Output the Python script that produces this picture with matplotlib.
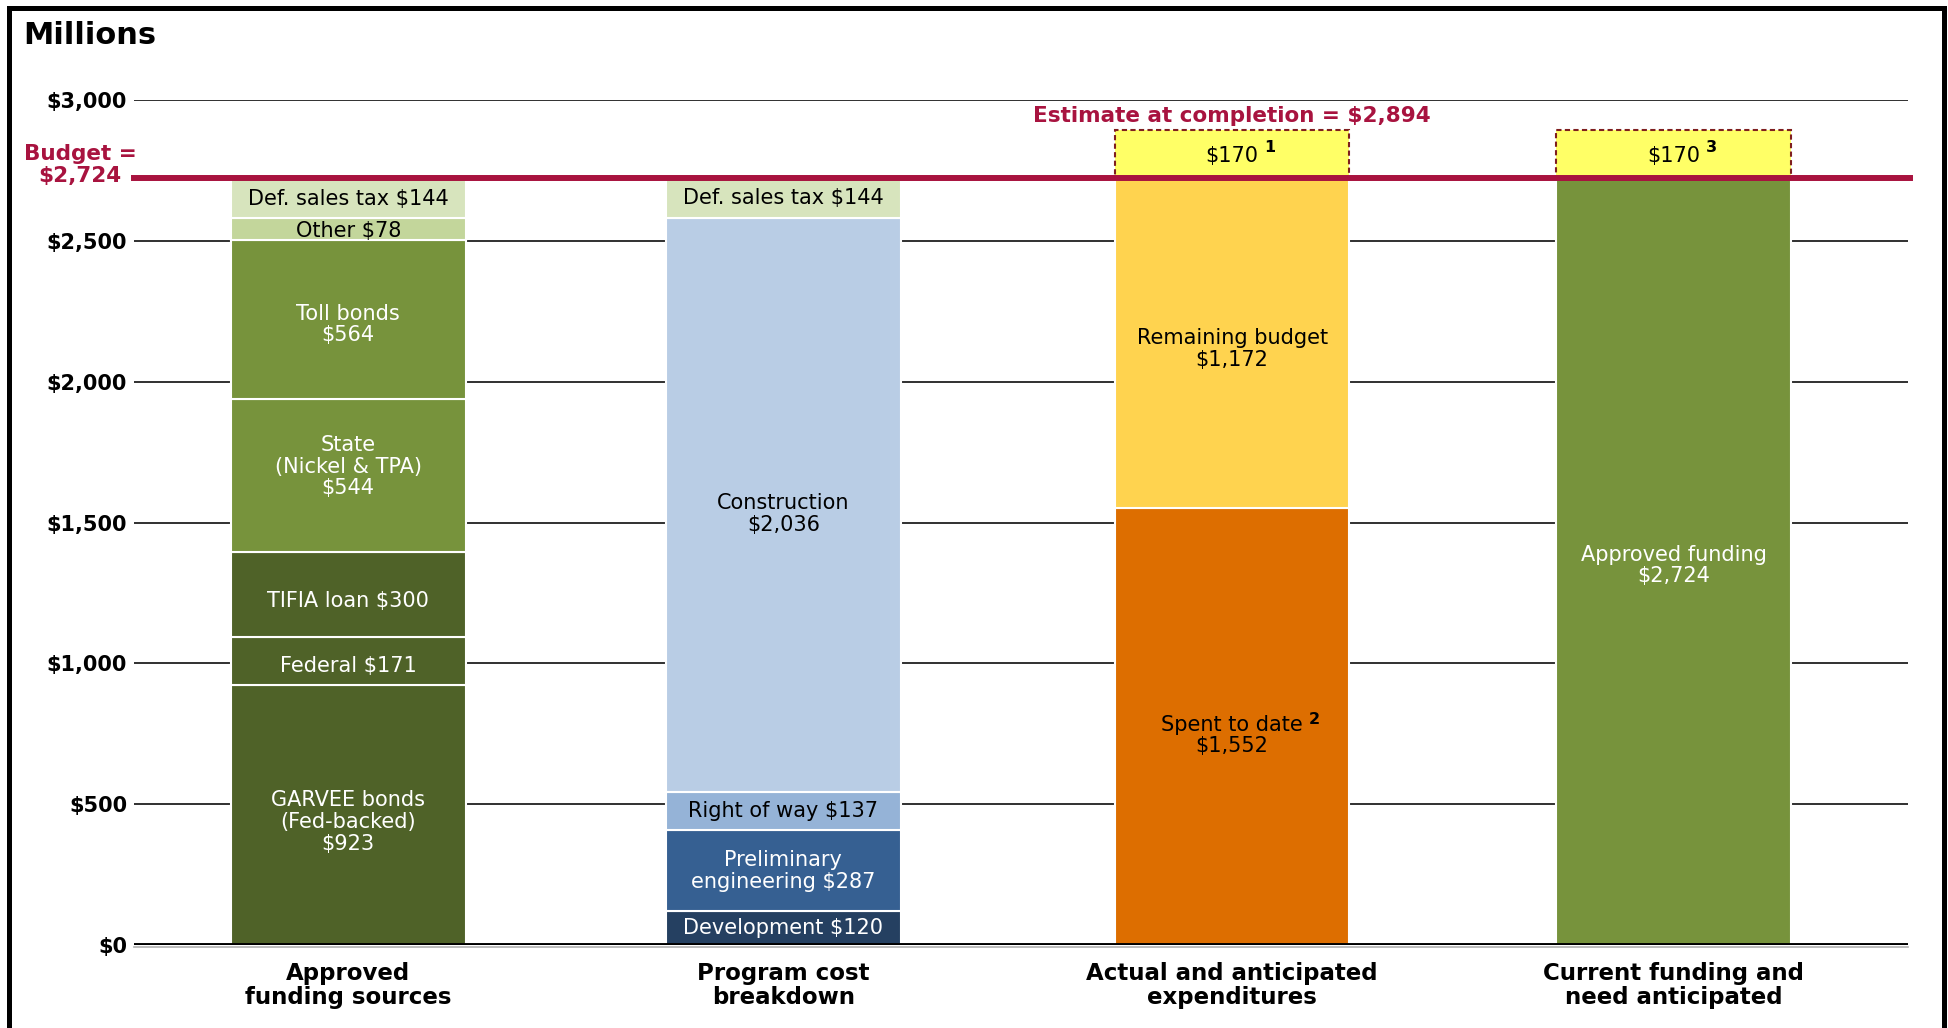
import matplotlib
matplotlib.use("Agg")
import matplotlib.pyplot as plt
from matplotlib.lines import Line2D
from matplotlib.transforms import blended_transform_factory, ScaledTranslation

# ---------------- data ----------------
categories = ["Approved\nfunding sources", "Program cost\nbreakdown",
              "Actual and anticipated\nexpenditures", "Current funding and\nneed anticipated"]

funding_labels = ["GARVEE bonds\n(Fed-backed)\n$923", "Federal $171", "TIFIA loan $300",
                  "State\n(Nickel & TPA)\n$544", "Toll bonds\n$564", "Other $78",
                  "Def. sales tax $144"]
funding_values = [923, 171, 300, 544, 564, 78, 144]

cost_labels = ["Development $120", "Preliminary\nengineering $287", "Right of way $137",
               "Construction\n$2,036", "Def. sales tax $144"]
cost_values = [120, 287, 137, 2036, 144]

expend_labels = ["Spent to date\n$1,552", "Remaining budget\n$1,172"]
expend_values = [1552, 1172]
expend_notes = ["2", ""]

current_labels = ["Approved funding\n$2,724"]
current_values = [2724]

unfunded = 170
unfunded_notes = ["1", "3"]
budget = 2724
estimate = 2894

yticks = [0, 500, 1000, 1500, 2000, 2500, 3000]
ytick_labels = ["$0", "$500", "$1,000", "$1,500", "$2,000", "$2,500", "$3,000"]

# ---------------- styles ----------------
funding_colors = ["#4F6228", "#4F6228", "#4F6228", "#77933C", "#77933C", "#C3D69B", "#D7E4BD"]
funding_text = ["white", "white", "white", "white", "white", "black", "black"]
funding_nudge = [7, 5, 6, -9, 5, 2, 1]          # label nudge, pixels downward
cost_colors = ["#254061", "#366092", "#95B3D7", "#B9CDE5", "#D7E4BD"]
cost_text = ["white", "white", "black", "black", "black"]
cost_nudge = [0, 0, 0, 9, 0]
expend_colors = ["#DD6E00", "#FFD34F"]
expend_text = ["black", "black"]
expend_nudge = [9, 6]
current_colors = ["#77933C"]
current_text = ["white"]
current_nudge = [4]

CRIMSON = "#A8133F"
positions = [0.0, 0.985, 2.001, 3.0]
bar_w = 0.531

plt.rcParams["font.family"] = ["DejaVu Sans"]

W, H = 1949, 1028
fig = plt.figure(figsize=(W / 100, H / 100), dpi=100)
ax = fig.add_axes([134 / W, 83 / H, 1774 / W, 845 / H])
ax.set_xlim(-0.485, 3.531)
ax.set_ylim(0, 3000)
for s in ax.spines.values():
    s.set_visible(False)

# gridlines
for y in yticks[1:]:
    ax.axhline(y, color="#202020", lw=1.3, zorder=0)
ax.axhline(0, color="black", lw=2.8, zorder=6)
zero_shadow = Line2D([0, 1], [0, 0], color="#b0b0b0", lw=1.2, zorder=5)
zero_shadow.set_transform(ax.transAxes + ScaledTranslation(0, -2.3 / 100, fig.dpi_scale_trans))
zero_shadow.set_clip_on(False)
ax.add_line(zero_shadow)

ax.set_yticks(yticks)
ax.set_yticklabels(ytick_labels, fontsize=15, fontweight="bold")
ax.set_xticks(positions)
ax.set_xticklabels(categories, fontsize=16.5, fontweight="bold", linespacing=1.1)
ax.tick_params(axis="y", length=0, pad=5)
ax.tick_params(axis="x", length=0, pad=12)


def stack(x, values, colors, labels, tcolors, nudges, notes=None):
    bottom = 0
    for i, (v, c, lab, tc, nd) in enumerate(zip(values, colors, labels, tcolors, nudges)):
        ax.bar(x, v, bottom=bottom, width=bar_w, color=c, edgecolor="white",
               linewidth=1.5, zorder=2)
        t = ax.annotate(lab, xy=(x, bottom + v / 2), xytext=(0, -nd * 0.72),
                        textcoords="offset points", ha="center", va="center",
                        fontsize=15, color=tc, linespacing=1.1, zorder=4)
        if notes and notes[i]:
            ax.annotate(notes[i], xy=(1, 1), xycoords=t, xytext=(4, 2),
                        textcoords="offset points", ha="left", va="top",
                        fontsize=11.5, fontweight="bold", color=tc, zorder=4)
        bottom += v


stack(positions[0], funding_values, funding_colors, funding_labels, funding_text, funding_nudge)
stack(positions[1], cost_values, cost_colors, cost_labels, cost_text, cost_nudge)
stack(positions[2], expend_values, expend_colors, expend_labels, expend_text, expend_nudge,
      expend_notes)
stack(positions[3], current_values, current_colors, current_labels, current_text, current_nudge)

# unfunded need boxes
for x, note in zip(positions[2:], unfunded_notes):
    ax.bar(x, unfunded, bottom=budget, width=bar_w, color="#FFFF66", edgecolor="#7F1F1F",
           linestyle=(0, (2.5, 1.6)), linewidth=1.5, zorder=3)
    t = ax.annotate(f"${unfunded}", xy=(x, budget + unfunded / 2), xytext=(0, -1.5),
                    textcoords="offset points", ha="center", va="center",
                    fontsize=15, color="black", zorder=4)
    ax.annotate(note, xy=(1, 1), xycoords=t, xytext=(4, 4), textcoords="offset points",
                ha="left", va="top", fontsize=11.5, fontweight="bold", color="black", zorder=4)

# budget line
ax.axhline(budget, xmin=0, xmax=1.0012, color=CRIMSON, lw=4.3, zorder=5, clip_on=False)
blend = blended_transform_factory(ax.transAxes, ax.transData)
ax.annotate(f"Budget =\n${budget:,}", xy=(-0.0304, budget), xycoords=blend,
            xytext=(0, 9), textcoords="offset points", ha="center", va="center",
            fontsize=15.5, fontweight="bold", color=CRIMSON, linespacing=1.15,
            annotation_clip=False)
ax.annotate(f"Estimate at completion = ${estimate:,}", xy=(positions[2], estimate),
            xytext=(0, 10), textcoords="offset points", ha="center", va="center",
            fontsize=15.5, fontweight="bold", color=CRIMSON, annotation_clip=False)

fig.text(23 / W, 1 - 36 / H, "Millions", ha="left", va="center", fontsize=22,
         fontweight="bold", color="black")

# outer frame (open at the bottom)
fx = [9.3 / W, 9.3 / W, 1944 / W, 1944 / W]
fy = [-0.02, 1 - 7.5 / H, 1 - 7.5 / H, -0.02]
fig.add_artist(Line2D(fx, fy, transform=fig.transFigure, color="black", lw=3.6,
                      solid_joinstyle="miter"))

fig.savefig("out.png", dpi=100, facecolor="white")
